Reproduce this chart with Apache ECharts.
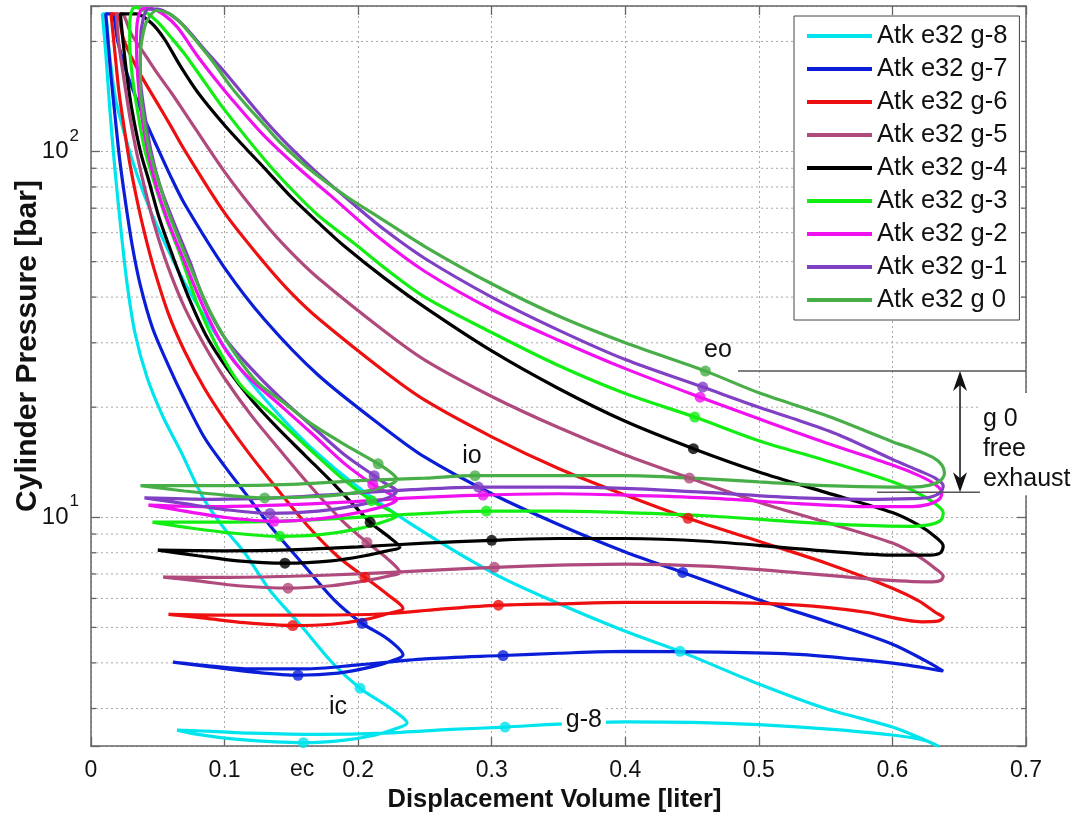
<!DOCTYPE html>
<html>
<head>
<meta charset="utf-8">
<script src="https://cdn.jsdelivr.net/npm/echarts@6/dist/echarts.min.js"></script>
<style>
  html, body { margin: 0; padding: 0; background: #fff; }
  #chart { width: 1080px; height: 818px; }
</style>
</head>
<body>
<div id="chart"></div>
<script>
// Cylinder pressure vs displacement volume, Atkinson cycle, one closed loop per setting.
// Each loop runs: intake (from exhaust TDC) -> compression -> expansion -> exhaust (back to start).
const gearNames = ['Atk e32 g-8', 'Atk e32 g-7', 'Atk e32 g-6', 'Atk e32 g-5', 'Atk e32 g-4',
                   'Atk e32 g-3', 'Atk e32 g-2', 'Atk e32 g-1', 'Atk e32 g 0'];
const gearColors = ['#00E4EE', '#0A1ED8', '#EE1010', '#B04A7C', '#000000',
                    '#12EE12', '#F010F0', '#8040C4', '#48AE48'];

const xTicks = [0, 0.1, 0.2, 0.3, 0.4, 0.5, 0.6, 0.7];
const yMinorTicks = [3, 4, 5, 6, 7, 8, 9, 20, 30, 40, 50, 60, 70, 80, 90, 200];

const loopG8 = [
  [0.0644,2.62],[0.08,2.55],[0.11,2.47],[0.159,2.42],[0.19,2.46],[0.213,2.54],[0.228,2.64],[0.2366,2.74],
  [0.2239,3.01],[0.2014,3.41],[0.181,3.99],[0.157,5.07],[0.134,6.31],[0.115,8.0],[0.099,9.4],[0.084,11.3],
  [0.067,15.2],[0.054,18.8],[0.042,24.1],[0.033,31.8],[0.027,43.6],[0.0225,60.8],[0.018,88.7],[0.0142,129],
  [0.0112,183],[0.0085,238],
  [0.0105,238],[0.0135,189],[0.017,150],[0.02,131],[0.03,97],[0.04,75.8],[0.05,61.9],[0.07,43.8],[0.1,29.2],
  [0.13,21.1],[0.17,14.9],[0.22,10.7],[0.3,7.07],[0.35,5.81],[0.4,4.88],[0.441,4.3],[0.5,3.5],[0.55,3.0],
  [0.6,2.67],[0.62,2.5],[0.635,2.36],
  [0.625,2.45],[0.6,2.54],[0.55,2.64],[0.5,2.71],[0.45,2.75],[0.4,2.76],[0.35,2.72],[0.31,2.67],[0.27,2.63],
  [0.22,2.57],[0.17,2.55],[0.12,2.57],[0.09,2.6],[0.0644,2.62]
];
const loopG7 = [
  [0.0614,4.02],[0.09,3.9],[0.12,3.78],[0.155,3.7],[0.185,3.75],[0.21,3.9],[0.225,4.05],[0.2336,4.2],
  [0.222,4.65],[0.203,5.13],[0.182,5.95],[0.158,7.5],[0.135,9.4],[0.115,11.7],[0.1,13.8],[0.085,16.5],
  [0.07,21],[0.058,26],[0.046,33],[0.037,43],[0.031,55],[0.026,72],[0.0215,95],[0.018,125],[0.015,160],
  [0.013,195],[0.011,238],
  [0.0157,238],[0.02,200],[0.025,172],[0.03,152],[0.04,123],[0.05,102],[0.06,85],[0.07,72],[0.1,48.1],
  [0.13,34.7],[0.17,24.5],[0.22,17.5],[0.25,14.6],[0.3,11.6],[0.35,9.56],[0.4,8.04],[0.443,7.07],[0.5,5.95],
  [0.55,5.2],[0.6,4.5],[0.625,4.05],[0.638,3.8],
  [0.632,3.83],[0.61,3.95],[0.57,4.1],[0.53,4.22],[0.47,4.28],[0.4,4.3],[0.35,4.25],[0.3085,4.19],[0.25,4.1],
  [0.2,3.95],[0.16,3.85],[0.12,3.85],[0.09,3.92],[0.0614,4.02]
];
const loopG6 = [
  [0.058,5.43],[0.085,5.3],[0.115,5.15],[0.151,5.06],[0.18,5.1],[0.205,5.25],[0.222,5.45],[0.2336,5.64],
  [0.222,6.15],[0.205,6.86],[0.185,7.8],[0.162,9.5],[0.139,12.0],[0.118,15.0],[0.1,18.5],[0.085,22.5],
  [0.07,28.5],[0.058,36],[0.047,48],[0.04,60],[0.034,75],[0.029,93],[0.025,115],[0.021,145],[0.018,185],
  [0.015,238],
  [0.0195,238],[0.024,205],[0.03,182],[0.038,160],[0.05,135],[0.06,117],[0.07,101],[0.1,68],[0.13,49.5],
  [0.15,41],[0.17,35],[0.22,25],[0.25,20.9],[0.3,16.6],[0.35,13.6],[0.4,11.5],[0.447,9.94],[0.5,8.6],
  [0.55,7.5],[0.6,6.4],[0.62,5.9],[0.632,5.5],[0.638,5.32],
  [0.634,5.2],[0.622,5.18],[0.58,5.5],[0.53,5.75],[0.46,5.85],[0.4,5.85],[0.35,5.8],[0.305,5.75],[0.26,5.6],
  [0.22,5.45],[0.17,5.4],[0.12,5.4],[0.058,5.43]
];
const loopG5 = [
  [0.054,6.86],[0.08,6.7],[0.11,6.5],[0.1475,6.4],[0.18,6.5],[0.205,6.7],[0.222,6.9],[0.2313,7.07],
  [0.222,7.7],[0.2066,8.54],[0.188,9.8],[0.164,12.2],[0.14,15.5],[0.12,19.0],[0.1,24],[0.085,29.5],
  [0.07,37.5],[0.058,48],[0.048,62],[0.04,80],[0.034,100],[0.029,125],[0.025,155],[0.021,195],[0.019,238],
  [0.023,238],[0.03,210],[0.04,185],[0.05,163],[0.06,145],[0.07,128],[0.1,88],[0.13,63.7],[0.15,52.9],
  [0.17,45.1],[0.22,32.2],[0.25,26.9],[0.3,21.4],[0.35,17.6],[0.4,14.8],[0.448,12.8],[0.5,11.0],[0.55,9.7],
  [0.6,8.5],[0.62,7.8],[0.632,7.25],[0.638,6.9],
  [0.636,6.72],[0.627,6.66],[0.58,6.8],[0.53,7.05],[0.46,7.35],[0.4,7.45],[0.35,7.4],[0.302,7.3],[0.25,7.15],
  [0.2,7.0],[0.15,6.9],[0.1,6.85],[0.054,6.86]
];
const loopG4 = [
  [0.05,8.13],[0.08,7.85],[0.11,7.6],[0.1452,7.49],[0.18,7.6],[0.205,7.85],[0.222,8.1],[0.2313,8.28],
  [0.222,8.9],[0.209,9.69],[0.184,12.1],[0.16,14.8],[0.14,17.5],[0.12,21],[0.102,25.5],[0.087,31],
  [0.073,40],[0.061,52],[0.051,66],[0.043,84],[0.037,100],[0.031,128],[0.027,160],[0.024,200],[0.022,238],
  [0.034,238],[0.045,225],[0.055,203],[0.0666,172],[0.08,145],[0.1,118],[0.117,101],[0.13,90],[0.15,75],
  [0.17,64],[0.19,55],[0.22,45],[0.25,37.5],[0.3,28.5],[0.35,22.5],[0.4,18.3],[0.451,15.4],[0.5,13.3],
  [0.55,11.7],[0.6,10.3],[0.62,9.5],[0.632,8.85],[0.638,8.35],
  [0.636,8.0],[0.628,7.88],[0.6,7.88],[0.53,8.2],[0.46,8.6],[0.4,8.75],[0.35,8.75],[0.30,8.65],[0.25,8.5],
  [0.2,8.3],[0.15,8.15],[0.1,8.1],[0.05,8.13]
];
const loopG3 = [
  [0.046,9.7],[0.07,9.4],[0.1,9.1],[0.1415,8.87],[0.17,8.95],[0.2,9.3],[0.222,9.8],[0.229,10.1],
  [0.22,10.6],[0.21,11.1],[0.19,12.6],[0.165,15.2],[0.14,18.5],[0.112,23],[0.095,29],[0.08,38],[0.067,52],
  [0.056,66],[0.047,83],[0.04,102],[0.035,128],[0.031,160],[0.029,195],[0.029,225],[0.031,245],
  [0.034,248],[0.04,242],[0.05,226],[0.06,205],[0.07,185],[0.085,155],[0.1,130],[0.13,95],[0.15,79],
  [0.17,67],[0.2,55],[0.22,48],[0.25,40],[0.3,32],[0.35,26],[0.4,21.8],[0.452,18.8],[0.5,16.2],[0.55,14.3],
  [0.6,12.5],[0.62,11.6],[0.632,10.9],[0.638,10.3],
  [0.636,9.8],[0.628,9.55],[0.615,9.45],[0.58,9.5],[0.53,9.7],[0.46,10.1],[0.4,10.3],[0.35,10.4],[0.296,10.4],
  [0.24,10.2],[0.19,9.95],[0.14,9.75],[0.09,9.7],[0.046,9.7]
];
const loopG2 = [
  [0.043,10.8],[0.07,10.4],[0.1,10.0],[0.137,9.75],[0.17,9.9],[0.2,10.3],[0.222,10.8],[0.229,11.2],
  [0.22,11.8],[0.211,12.3],[0.19,14.0],[0.165,17.0],[0.14,20.5],[0.116,24.5],[0.1,29],[0.085,37],[0.07,50],
  [0.058,64],[0.05,78],[0.043,98],[0.038,125],[0.035,160],[0.034,200],[0.035,230],[0.039,246],
  [0.045,246],[0.055,236],[0.065,218],[0.079,184],[0.09,163],[0.104,141],[0.129,111],[0.154,91],[0.179,76],
  [0.216,58],[0.25,47],[0.3,37],[0.35,30.5],[0.4,25.5],[0.456,21.3],[0.5,18.6],[0.55,16.0],[0.6,13.9],
  [0.62,13.0],[0.632,12.3],[0.637,11.7],
  [0.635,11.2],[0.627,10.85],[0.615,10.7],[0.58,10.7],[0.53,10.9],[0.46,11.3],[0.4,11.5],[0.35,11.6],[0.2935,11.5],
  [0.24,11.3],[0.19,11.0],[0.14,10.8],[0.09,10.7],[0.043,10.8]
];
const loopG1 = [
  [0.04,11.3],[0.07,10.9],[0.1,10.5],[0.134,10.25],[0.17,10.4],[0.2,10.8],[0.222,11.3],[0.229,11.8],
  [0.22,12.4],[0.212,13.0],[0.19,14.8],[0.165,17.8],[0.14,21.5],[0.12,25.5],[0.1,31],[0.085,39],[0.074,50],
  [0.062,64],[0.052,80],[0.045,100],[0.04,128],[0.037,160],[0.037,200],[0.039,230],[0.043,245],
  [0.05,245],[0.06,236],[0.07,220],[0.085,190],[0.1,165],[0.13,122],[0.15,102],[0.17,87],[0.2,70],
  [0.22,61],[0.25,51],[0.3,40],[0.35,32.5],[0.4,27],[0.458,22.7],[0.5,20.0],[0.53,18.4],[0.56,16.8],
  [0.6,14.4],[0.62,13.4],[0.632,12.8],[0.638,12.2],
  [0.636,11.7],[0.628,11.35],[0.615,11.25],[0.58,11.2],[0.53,11.3],[0.46,11.7],[0.4,12.0],[0.35,12.1],[0.29,12.1],
  [0.24,11.9],[0.19,11.6],[0.14,11.3],[0.09,11.2],[0.04,11.3]
];
const loopG0 = [
  [0.037,12.2],[0.07,11.8],[0.1,11.5],[0.13,11.3],[0.17,11.4],[0.2,11.7],[0.222,12.2],[0.229,12.7],
  [0.224,13.3],[0.215,14.0],[0.19,15.8],[0.165,18.0],[0.145,20.5],[0.124,23.5],[0.105,29],[0.09,36],
  [0.078,45],[0.068,55],[0.058,68],[0.05,84],[0.044,100],[0.04,120],[0.037,150],[0.037,185],[0.039,210],
  [0.042,228],[0.049,243],
  [0.058,239],[0.0666,226],[0.08,198],[0.0913,176],[0.105,150],[0.117,133],[0.13,118],[0.1415,106],
  [0.166,88],[0.192,75],[0.216,66],[0.25,55],[0.3,43.5],[0.35,35.5],[0.4,30],[0.46,25.1],[0.5,21.9],
  [0.55,19.0],[0.6,16.1],[0.615,15.4],[0.63,14.6],[0.637,13.9],[0.639,13.2],
  [0.636,12.6],[0.628,12.25],[0.615,12.1],[0.6,12.1],[0.55,12.2],[0.5,12.5],[0.45,12.8],[0.4,13.0],[0.35,13.0],
  [0.2875,13.0],[0.25,12.8],[0.2,12.6],[0.15,12.3],[0.1,12.2],[0.06,12.2],[0.037,12.2]
];

// Valve events on each loop: ic, eo, io, ec
const valveG8 = [[0.2014,3.41],[0.441,4.3],[0.31,2.67],[0.159,2.42]];
const valveG7 = [[0.203,5.13],[0.443,7.07],[0.3085,4.19],[0.155,3.7]];
const valveG6 = [[0.205,6.86],[0.447,9.94],[0.305,5.75],[0.151,5.06]];
const valveG5 = [[0.2066,8.54],[0.448,12.8],[0.302,7.3],[0.1475,6.4]];
const valveG4 = [[0.209,9.69],[0.451,15.4],[0.30,8.65],[0.1452,7.49]];
const valveG3 = [[0.21,11.1],[0.452,18.8],[0.296,10.4],[0.1415,8.87]];
const valveG2 = [[0.211,12.3],[0.456,21.3],[0.2935,11.5],[0.137,9.75]];
const valveG1 = [[0.212,13.0],[0.458,22.7],[0.29,12.1],[0.134,10.25]];
const valveG0 = [[0.215,14.0],[0.46,25.1],[0.2875,13.0],[0.13,11.3]];

const loops = [loopG8, loopG7, loopG6, loopG5, loopG4, loopG3, loopG2, loopG1, loopG0];
const valves = [valveG8, valveG7, valveG6, valveG5, valveG4, valveG3, valveG2, valveG1, valveG0];

const FONT = '"Liberation Sans", Arial, Helvetica, sans-serif';
const AXIS_COLOR = '#666';
const GRID_DASH = [2, 3];

const chart = echarts.init(document.getElementById('chart'), null, { renderer: 'canvas' });

const series = [];
// minor log gridlines and the short inward minor ticks on both sides
series.push({
  type: 'custom',
  silent: true,
  z: 1,
  data: yMinorTicks.map(v => [0, v]),
  renderItem: (params, api) => {
    const y = api.coord([0, api.value(1)])[1];
    const cs = params.coordSys;
    return {
      type: 'group',
      children: [
        { type: 'line', shape: { x1: cs.x, y1: y, x2: cs.x + cs.width, y2: y },
          style: { stroke: '#a8a8a8', lineWidth: 1, lineDash: GRID_DASH } },
        { type: 'line', shape: { x1: cs.x, y1: y, x2: cs.x + 5, y2: y },
          style: { stroke: AXIS_COLOR, lineWidth: 1.3 } },
        { type: 'line', shape: { x1: cs.x + cs.width - 5, y1: y, x2: cs.x + cs.width, y2: y },
          style: { stroke: AXIS_COLOR, lineWidth: 1.3 } }
      ]
    };
  }
});
loops.forEach((loop, i) => {
  series.push({
    name: gearNames[i],
    type: 'line',
    data: loop,
    smooth: 0.3,
    showSymbol: false,
    symbol: 'none',
    z: 3,
    lineStyle: { color: gearColors[i], width: 3.2 },
    itemStyle: { color: gearColors[i] }
  });
  series.push({
    name: gearNames[i],
    type: 'scatter',
    data: valves[i],
    symbol: 'circle',
    symbolSize: 11,
    z: 3,
    itemStyle: { color: gearColors[i] }
  });
});

const tickLabel = { fontFamily: FONT, fontSize: 23, color: '#111' };

chart.setOption({
  animation: false,
  backgroundColor: '#fff',
  grid: { left: 91, right: 54, top: 6, bottom: 72, containLabel: false },
  legend: {
    data: gearNames,
    orient: 'vertical',
    left: 794,
    top: 16,
    padding: [7, 12, 7, 13],
    itemGap: 7,
    itemWidth: 65,
    itemHeight: 4,
    icon: 'rect',
    backgroundColor: '#fff',
    borderColor: '#444',
    borderWidth: 1,
    borderRadius: 0,
    selectedMode: false,
    z: 20,
    textStyle: { fontFamily: FONT, fontSize: 25.5, color: '#111' }
  },
  xAxis: [
    {
      type: 'value', min: xTicks[0], max: xTicks[xTicks.length - 1], interval: 0.1,
      position: 'bottom',
      name: 'Displacement Volume [liter]', nameLocation: 'middle', nameGap: 40,
      nameTextStyle: { fontFamily: FONT, fontSize: 25.5, fontWeight: 'bold', color: '#111', padding: [0, 8, 0, 0] },
      axisLine: { show: true, onZero: false, lineStyle: { color: AXIS_COLOR, width: 1.5 } },
      axisTick: { show: true, inside: true, length: 9, lineStyle: { color: AXIS_COLOR, width: 1.3 } },
      axisLabel: Object.assign({ margin: 13 }, tickLabel),
      splitLine: { show: true, lineStyle: { color: '#a8a8a8', width: 1, type: GRID_DASH } }
    },
    {
      type: 'value', min: xTicks[0], max: xTicks[xTicks.length - 1], interval: 0.1,
      position: 'top',
      axisLine: { show: true, onZero: false, lineStyle: { color: AXIS_COLOR, width: 1.5 } },
      axisTick: { show: true, inside: true, length: 9, lineStyle: { color: AXIS_COLOR, width: 1.3 } },
      axisLabel: { show: false },
      splitLine: { show: false }
    }
  ],
  yAxis: [
    {
      type: 'log', logBase: 10, min: 2.37, max: 250,
      position: 'left',
      axisLine: { show: true, onZero: false, lineStyle: { color: AXIS_COLOR, width: 1.5 } },
      axisTick: { show: true, inside: true, length: 9, lineStyle: { color: AXIS_COLOR, width: 1.3 } },
      axisLabel: {
        margin: 12,
        formatter: v => {
          const e = Math.round(Math.log10(v));
          if (Math.abs(Math.log10(v) - e) > 1e-6) return '';
          return '{b|10}{s|' + e + '}';
        },
        rich: {
          b: { fontFamily: FONT, fontSize: 24, color: '#111', padding: [12, 0, 12, 0], verticalAlign: 'middle' },
          s: { fontFamily: FONT, fontSize: 17, color: '#111', verticalAlign: 'top', padding: [0, 0, 0, 1] }
        }
      },
      splitLine: { show: true, lineStyle: { color: '#a8a8a8', width: 1, type: GRID_DASH } }
    },
    {
      type: 'log', logBase: 10, min: 2.37, max: 250,
      position: 'right',
      axisLine: { show: true, onZero: false, lineStyle: { color: AXIS_COLOR, width: 1.5 } },
      axisTick: { show: true, inside: true, length: 9, lineStyle: { color: AXIS_COLOR, width: 1.3 } },
      axisLabel: { show: false },
      splitLine: { show: false }
    }
  ],
  series: series
});

// Annotations: event names, the g-8 tag and the free-exhaust bracket for g 0
const toPx = (x, p) => chart.convertToPixel({ xAxisIndex: 0, yAxisIndex: 0 }, [x, p]);
const annFont = '25px ' + FONT;
const gridRight = 1080 - 54;
const gridBottom = 818 - 72;
const graphics = [];

function addText(str, X, Y, extra) {
  graphics.push({
    type: 'text', x: X, y: Y, z: 60, silent: true,
    style: Object.assign({ text: str, font: annFont, fill: '#111', align: 'center', verticalAlign: 'middle',
                           textAlign: 'center', textVerticalAlign: 'middle' }, extra || {})
  });
}

[['eo', 0.4694, 28.6], ['io', 0.2852, 14.7], ['ic', 0.1849, 3.03]].forEach(([t, x, p]) => {
  const [X, Y] = toPx(x, p);
  addText(t, X, Y);
});
{
  const [X, Y] = toPx(0.369, 2.79);
  addText('g-8', X, Y, { backgroundColor: '#fff', padding: [1, 4, 1, 4] });
}
{
  const [X] = toPx(0.158, 3);
  addText('ec', X, gridBottom + 24, { font: '23px ' + FONT });
}

// bracket lines and double arrow
const [, yUp] = toPx(0.6, 25.1);
const [, yLow] = toPx(0.6, 11.7);
const [xUpStart] = toPx(0.4844, 25.1);
const [xLowStart] = toPx(0.5885, 11.7);
const [xLowEnd] = toPx(0.667, 11.7);
const [xArrow] = toPx(0.6506, 20);
graphics.push({ type: 'line', z: 55, silent: true, shape: { x1: xUpStart, y1: yUp, x2: gridRight, y2: yUp },
                style: { stroke: '#555', lineWidth: 1.5 } });
graphics.push({ type: 'line', z: 55, silent: true, shape: { x1: xLowStart, y1: yLow, x2: xLowEnd, y2: yLow },
                style: { stroke: '#555', lineWidth: 1.5 } });
graphics.push({ type: 'line', z: 55, silent: true, shape: { x1: xArrow, y1: yUp + 6, x2: xArrow, y2: yLow - 6 },
                style: { stroke: '#111', lineWidth: 1.5 } });
graphics.push({ type: 'polygon', z: 56, silent: true,
                shape: { points: [[xArrow, yUp], [xArrow - 7, yUp + 20], [xArrow, yUp + 14], [xArrow + 7, yUp + 20]] },
                style: { fill: '#111' } });
graphics.push({ type: 'polygon', z: 56, silent: true,
                shape: { points: [[xArrow, yLow], [xArrow - 7, yLow - 20], [xArrow, yLow - 14], [xArrow + 7, yLow - 20]] },
                style: { fill: '#111' } });
// white panel for the bracket text, which sits over the right frame
graphics.push({ type: 'rect', z: 57, silent: true, shape: { x: xLowEnd - 2, y: yUp + 22, width: 1080 - xLowEnd + 2, height: yLow - yUp - 19 },
                style: { fill: '#fff' } });
graphics.push({
  type: 'text', z: 58, silent: true, x: xLowEnd + 1, y: yUp + 78,
  style: { text: 'g 0\nfree\nexhaust', font: annFont, fill: '#111', lineHeight: 30,
           align: 'left', verticalAlign: 'middle', textAlign: 'left', textVerticalAlign: 'middle' }
});
// axis title on the left
graphics.push({
  type: 'text', z: 58, silent: true, x: 28, y: 346, rotation: Math.PI / 2,
  style: { text: 'Cylinder Pressure [bar]', font: 'bold 30px ' + FONT, fill: '#111',
           align: 'center', verticalAlign: 'middle', textAlign: 'center', textVerticalAlign: 'middle' }
});

chart.setOption({ graphic: graphics });
</script>
</body>
</html>
